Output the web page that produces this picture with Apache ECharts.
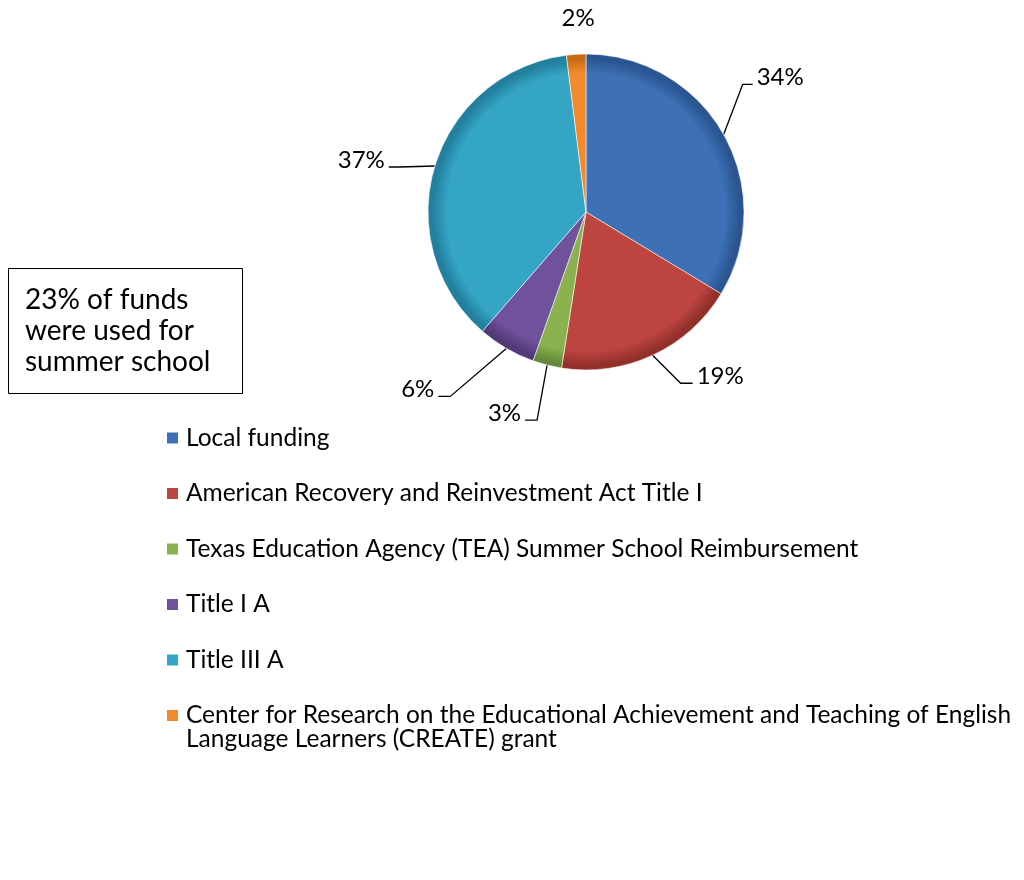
<!DOCTYPE html>
<html>
<head>
<meta charset="utf-8">
<title>Funding sources</title>
<script src="https://cdn.jsdelivr.net/npm/echarts@6/dist/echarts.min.js"></script>
<style>
  html, body { margin: 0; padding: 0; background: #ffffff; }
  #chart { width: 1024px; height: 880px; }
</style>
</head>
<body>
<div id="chart"></div>
<script>
// Funding sources (percent of total funds)
const categories = [
  'Local funding',
  'American Recovery and Reinvestment Act Title I',
  'Texas Education Agency (TEA) Summer School Reimbursement',
  'Title I A',
  'Title III A',
  'Center for Research on the Educational Achievement and Teaching of English Language Learners (CREATE) grant'
];
const shares = [34, 19, 3, 6, 37, 2];
const noteLines = ['23% of funds', 'were used for', 'summer school'];

// Slice colours (base, darker rim)
const baseColors = ['#3D70B4', '#BE4440', '#8AB24E', '#70519B', '#35A5C5', '#F28A2C'];
const rimColors  = ['#2A5592', '#93302C', '#66893A', '#523A77', '#22809E', '#C96A16'];

const CX = 586, CY = 212, R = 158;
const FONT = 'Lato, "Open Sans", sans-serif';

// Leader line geometry per slice: bend offset from slice edge, horizontal tail length
const leader = [
  { bend: [19, -50], tail: 10 },
  { bend: [28, 28], tail: 12 },
  { bend: [-10, 55], tail: -12 },
  { bend: [-56, 48], tail: -12 },
  { bend: [-35, 1], tail: -11 },
  { free: [2, -36] }
];

const total = shares.reduce((a, b) => a + b, 0);
function edgePoint(i) {
  let before = 0;
  for (let k = 0; k < i; k++) before += shares[k];
  const mid = (before + shares[i] / 2) / total * Math.PI * 2;
  return [CX + R * Math.sin(mid), CY - R * Math.cos(mid)];
}

function sliceGradient(i) {
  return {
    type: 'radial', x: CX, y: CY, r: R, global: true,
    colorStops: [
      { offset: 0, color: baseColors[i] },
      { offset: 0.88, color: baseColors[i] },
      { offset: 0.97, color: rimColors[i] },
      { offset: 1, color: rimColors[i] }
    ]
  };
}

const pieData = categories.map((name, i) => ({
  name: name,
  value: shares[i],
  itemStyle: { color: sliceGradient(i) },
  labelLine: { show: !leader[i].free }
}));

const legendMain = categories.slice(0, 5).map((name, i) => ({
  name: name, itemStyle: { color: baseColors[i], borderWidth: 0 }
}));
const legendLast = [{
  name: categories[5], itemStyle: { color: baseColors[5], borderWidth: 0 }
}];

const legendText = { fontFamily: FONT, fontSize: 24.5, color: '#000' };

const chart = echarts.init(document.getElementById('chart'), null, { renderer: 'canvas' });

chart.setOption({
  animation: false,
  backgroundColor: '#ffffff',
  legend: [
    {
      data: legendMain,
      orient: 'vertical',
      left: 167,
      top: 425,
      padding: 0,
      icon: 'rect',
      itemWidth: 11,
      itemHeight: 11,
      itemGap: 29.5,
      textStyle: Object.assign({ lineHeight: 26, padding: [0, 0, 0, 3] }, legendText)
    },
    {
      data: legendLast,
      orient: 'vertical',
      left: 167,
      top: 703,
      padding: 0,
      // square sits at the top of a taller icon box so it lines up with the first text line
      icon: 'path://M0,0L11,0L11,11L0,11Z M0,35L0.01,35',
      itemWidth: 11,
      itemHeight: 35,
      textStyle: Object.assign({
        lineHeight: 24, width: 900, overflow: 'break', padding: [0, 0, 0, 3]
      }, legendText)
    }
  ],
  graphic: [
    {
      type: 'rect',
      shape: { x: 8.5, y: 268.5, width: 234, height: 125 },
      style: { fill: '#fff', stroke: '#000', lineWidth: 1 }
    },
    {
      type: 'text',
      left: 25,
      top: 284,
      style: {
        text: noteLines.join('\n'),
        fontFamily: FONT, fontSize: 28, lineHeight: 31, fill: '#000'
      }
    }
  ],
  series: [{
    type: 'pie',
    center: [CX, CY],
    radius: [0, R],
    startAngle: 90,
    clockwise: true,
    avoidLabelOverlap: false,
    data: pieData,
    itemStyle: { borderColor: 'rgba(255,255,255,0.55)', borderWidth: 1 },
    label: {
      show: true,
      position: 'outside',
      formatter: '{c}%',
      fontFamily: FONT, fontSize: 24, color: '#000'
    },
    labelLine: { show: true, length: 20, length2: 10, lineStyle: { color: '#000', width: 1.3 } },
    emphasis: { disabled: true },
    labelLayout: function (p) {
      const i = p.dataIndex;
      const L = leader[i];
      const p0 = edgePoint(i);
      if (L.free) {
        return { x: p0[0] + L.free[0], y: p0[1] + L.free[1], align: 'center', verticalAlign: 'middle' };
      }
      const bend = [p0[0] + L.bend[0], p0[1] + L.bend[1]];
      const end = [bend[0] + L.tail, bend[1]];
      const dir = L.tail > 0 ? 1 : -1;
      return {
        x: end[0] + dir * 4,
        y: end[1] - 7,
        align: dir > 0 ? 'left' : 'right',
        verticalAlign: 'middle',
        labelLinePoints: [p0, bend, end]
      };
    }
  }]
});
</script>
</body>
</html>
